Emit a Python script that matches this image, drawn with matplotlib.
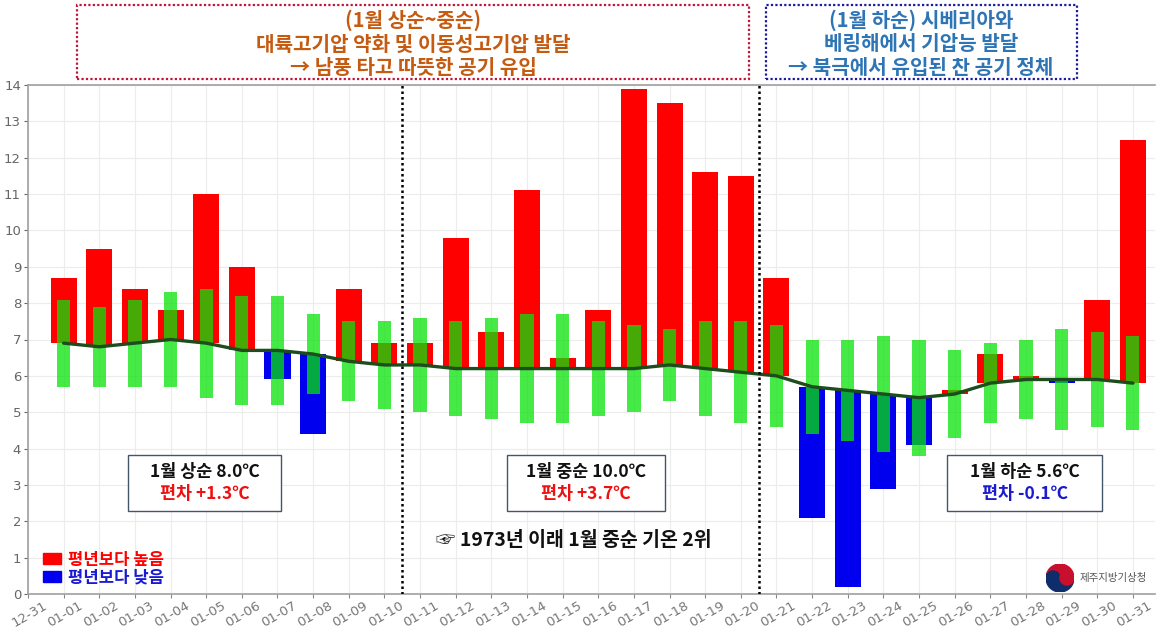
import matplotlib; matplotlib.use("Agg")
import matplotlib.pyplot as plt
import matplotlib.transforms as mtransforms
from matplotlib.patches import Rectangle, Patch, Wedge, Circle
import numpy as np

plt.rcParams['font.family'] = ['Noto Sans CJK KR', 'DejaVu Sans']

# ------------------------------------------------------------------ data
days = ["12-31"] + [f"01-{d:02d}" for d in range(1, 32)]

# daily mean temperature, Jan 1..31
obs = [8.7, 9.5, 8.4, 7.8, 11.0, 9.0, 5.9, 4.4, 8.4, 6.9,
       6.9, 9.8, 7.2, 11.1, 6.5, 7.8, 13.9, 13.5, 11.6, 11.5,
       8.7, 2.1, 0.2, 2.9, 4.1, 5.6, 6.6, 6.0, 5.8, 8.1, 12.5]
# normal (climatological) mean
normal = [6.9, 6.8, 6.9, 7.0, 6.9, 6.7, 6.7, 6.6, 6.4, 6.3,
          6.3, 6.2, 6.2, 6.2, 6.2, 6.2, 6.2, 6.3, 6.2, 6.1,
          6.0, 5.7, 5.6, 5.5, 5.4, 5.5, 5.8, 5.9, 5.9, 5.9, 5.8]
# normal range (green bars)
norm_lo = [5.7, 5.7, 5.7, 5.7, 5.4, 5.2, 5.2, 5.5, 5.3, 5.1,
           5.0, 4.9, 4.8, 4.7, 4.7, 4.9, 5.0, 5.3, 4.9, 4.7,
           4.6, 4.4, 4.2, 3.9, 3.8, 4.3, 4.7, 4.8, 4.5, 4.6, 4.5]
norm_hi = [8.1, 7.9, 8.1, 8.3, 8.4, 8.2, 8.2, 7.7, 7.5, 7.5,
           7.6, 7.5, 7.6, 7.7, 7.7, 7.5, 7.4, 7.3, 7.5, 7.5,
           7.4, 7.0, 7.0, 7.1, 7.0, 6.7, 6.9, 7.0, 7.3, 7.2, 7.1]

periods = ["1월 상순 8.0℃", "1월 중순 10.0℃", "1월 하순 5.6℃"]
anoms = ["편차 +1.3℃", "편차 +3.7℃", "편차 -0.1℃"]
anom_colors = ["#ee1111", "#ee1111", "#1a1ad0"]

RED, BLUE = "#ff0000", "#0000ee"
GREEN = (8 / 255, 227 / 255, 8 / 255)

# ------------------------------------------------------------------ figure
W, H = 1171, 635
fig = plt.figure(figsize=(11.71, 6.35), dpi=100)
ax = fig.add_axes([28 / W, 1 - 594 / H, (1155 - 28) / W, (594 - 85) / H])

x = np.arange(1, 32)
obs_a, nor_a = np.array(obs), np.array(normal)
cols = [RED if o >= n else BLUE for o, n in zip(obs, normal)]
ax.bar(x, obs_a - nor_a, bottom=nor_a, width=0.73, color=cols, zorder=2)
ax.bar(x, np.array(norm_hi) - np.array(norm_lo), bottom=norm_lo, width=0.37,
       color=GREEN, alpha=0.75, zorder=3)
ax.plot(x, normal, color="#1d4d1d", lw=2.4, zorder=4, solid_capstyle="round")

for xv in (10.5, 20.5):
    ax.plot([xv, xv], [0, 14], ls=(0, (1, 1.2)), color="black", lw=1.8, zorder=5)

ax.set_xlim(0, 31.62)
ax.set_ylim(0, 14)
ax.set_yticks(range(0, 15))
ax.set_xticks(range(0, 32))
ax.set_xticklabels([])
# rotated date labels, shifted right of the tick like the original
lab_tr = ax.get_xaxis_transform() + mtransforms.ScaledTranslation(0.15, -0.05, fig.dpi_scale_trans)
for i, d in enumerate(days):
    ax.text(i, 0, d, transform=lab_tr, rotation=30, ha="right", va="top",
            rotation_mode="anchor", color="#777777", fontsize=9.5,
            family="DejaVu Sans", clip_on=False)
ax.tick_params(axis="y", labelsize=9.5, colors="#666666", length=3, pad=2)
ax.tick_params(axis="x", colors="#888888", length=3, pad=1)
for lab in ax.get_yticklabels():
    lab.set_family("DejaVu Sans")
ax.grid(True, color="#ececec", lw=0.8, zorder=0)
ax.set_axisbelow(True)
for s in ("left", "bottom", "top"):
    ax.spines[s].set_color("#a0a0a0")
    ax.spines[s].set_linewidth(1.2)
ax.spines["right"].set_visible(False)

# period boxes
boxes = [(2.81, 7.10), (13.44, 17.87), (25.79, 30.13)]
for (x0, x1), p, a, c in zip(boxes, periods, anoms, anom_colors):
    ax.add_patch(Rectangle((x0, 2.28), x1 - x0, 1.54, fill=True, facecolor="white",
                           edgecolor="#44546a", lw=1.0, zorder=6))
    xc = (x0 + x1) / 2
    ax.text(xc, 3.36, p, ha="center", va="center", fontsize=12.5, fontweight="bold",
            color="#111111", zorder=7)
    ax.text(xc, 2.74, a, ha="center", va="center", fontsize=12.5, fontweight="bold",
            color=c, zorder=7)

ax.text(15.3, 1.46, "☞ 1973년 이래 1월 중순 기온 2위", ha="center", va="center",
        fontsize=14, fontweight="bold", color="#111111", zorder=7,
        family=["Noto Sans CJK KR", "DejaVu Sans"])

# legend
leg = ax.legend(handles=[Patch(color=RED), Patch(color=BLUE)],
                labels=["평년보다 높음", "평년보다 낮음"], loc="lower left",
                bbox_to_anchor=(0.0, -0.015), frameon=False,
                handlelength=1.1, handleheight=0.6, handletextpad=0.4,
                labelspacing=0.0, prop={"weight": "bold", "size": 12})
for t, c in zip(leg.get_texts(), [RED, "#1a1ad0"]):
    t.set_color(c)

# top annotation boxes (figure coords in pixels)
def fig_box(x0, y0, x1, y1, ec):
    fig.patches.append(Rectangle((x0 / W, 1 - y1 / H), (x1 - x0) / W, (y1 - y0) / H,
                                 transform=fig.transFigure, fill=False, edgecolor=ec,
                                 lw=1.6, ls=(0, (1, 1))))

fig_box(77, 5, 749, 79, "#c0143c")
fig_box(766, 5, 1077, 79, "#1a1a9a")
lines_l = ["(1월 상순~중순)", "대륙고기압 약화 및 이동성고기압 발달", "→ 남풍 타고 따뜻한 공기 유입"]
lines_r = ["(1월 하순) 시베리아와", "베링해에서 기압능 발달", "→ 북극에서 유입된 찬 공기 정체"]
for i, (tl, tr) in enumerate(zip(lines_l, lines_r)):
    yy = 1 - (20 + 24 * i) / H
    fig.text(413 / W, yy, tl, ha="center", va="center", fontsize=14.5,
             fontweight="bold", color="#c55a11")
    fig.text(921 / W, yy, tr, ha="center", va="center", fontsize=14.5,
             fontweight="bold", color="#2e75b6")

# logo
lax = fig.add_axes([1046 / W, 1 - 592 / H, 28 / W, 28 / H])
lax.set_xlim(-1, 1); lax.set_ylim(-1, 1); lax.set_aspect("equal"); lax.axis("off")
lax.add_patch(Wedge((0, 0), 1, 0, 180, color="#c8102e"))
lax.add_patch(Wedge((0, 0), 1, 180, 360, color="#0f2c6b"))
lax.add_patch(Circle((-0.5, 0), 0.5, color="#0f2c6b"))
lax.add_patch(Circle((0.5, 0), 0.5, color="#c8102e"))
fig.text(1080 / W, 1 - 578 / H, "제주지방기상청", fontsize=7.5, color="#555555",
         ha="left", va="center")

fig.savefig("out.png", dpi=100)
